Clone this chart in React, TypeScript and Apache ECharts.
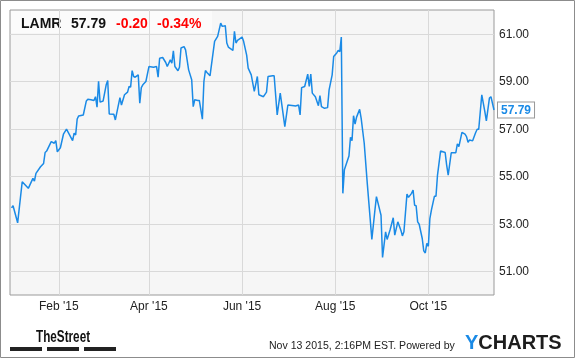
import React, { useEffect, useRef } from 'react';
import * as echarts from 'echarts';

// Day of year 2015 (Dec 31 2014 = 0) and closing price
const days = [
  1, 2, 5, 8, 12, 15, 16, 17, 20, 22, 23, 24, 27, 29, 30, 31, 33, 35, 37, 41, 42, 43, 44, 45, 48, 50, 51,
  53, 55, 56, 57, 58, 59, 61, 63, 64, 65, 68, 69, 72, 73, 75, 77, 78, 79, 80, 81, 82, 84, 85, 86, 87, 89,
  91, 94, 96, 97, 98, 100, 102, 103, 105, 106, 107, 108, 110, 111, 112, 114, 115, 116, 117, 119, 120, 121,
  123, 124, 126, 127, 128, 129, 131, 134, 136, 138, 139, 141, 142, 143, 146, 147, 148, 149, 152, 153,
  155, 156, 158, 160, 162, 163, 166, 168, 169, 172, 173, 175, 177, 180, 182, 186, 187, 189, 190, 191,
  193, 195, 196, 197, 198, 200, 202, 203, 204, 206, 208, 209, 211, 212, 214, 215, 216, 217, 218, 219,
  222, 223, 224, 225, 226, 227, 229, 230, 232, 234, 237, 239, 240, 243, 244, 246, 247, 249, 251, 252,
  254, 256, 257, 258, 260, 261, 263, 264, 265, 266, 267, 268, 270, 271, 272, 273, 274, 275, 276, 278,
  279, 280, 282, 285, 286, 287, 289, 291, 292, 293, 294, 296, 298, 299, 300, 301, 303, 305, 306, 307,
  309, 311, 312, 314, 315, 317,
];
const prices = [
  53.67, 53.76, 53.04, 54.77, 54.49, 54.91, 54.8, 55.12, 55.4, 55.54, 56.0, 56.06, 56.46, 56.39, 56.5, 56.03,
  56.2, 56.77, 56.98, 56.5, 56.81, 56.74, 57.41, 57.54, 57.58, 58.17, 58.24,
  58.22, 58.19, 58.35, 57.91, 59.0, 58.12, 58.17, 58.85, 59.03, 57.62, 57.61, 57.37, 58.31, 58.0, 58.43,
  58.54, 58.78, 58.75, 59.45, 59.2, 59.17, 59.27, 58.08, 58.73, 58.85, 58.99,
  59.62, 59.59, 59.62, 59.17, 59.97, 60.0, 59.79, 59.62, 59.9, 59.76, 60.28, 59.62, 59.44, 59.59, 60.4,
  60.46, 60.32, 59.9, 59.48, 59.06, 57.93, 58.22,
  58.19, 58.19, 57.4, 58.99, 59.45, 59.37, 59.23, 60.68, 60.89, 61.45, 61.31, 61.34, 60.61, 60.44, 60.3,
  61.1, 60.61, 60.72, 60.86, 60.68,
  60.1, 59.55, 59.27, 58.57, 59.2, 58.43, 58.35, 58.54, 59.2, 59.23, 59.23, 57.58, 58.5, 57.09, 58.0,
  57.97, 57.96, 58.0, 57.58, 58.73,
  58.78, 59.3, 58.78, 59.3, 58.5, 58.35, 57.97, 58.4, 57.93, 57.86, 57.89, 58.64, 59.27, 60.04, 60.19,
  60.3, 60.25, 60.86, 54.28, 55.27,
  55.85, 56.64, 56.5, 57.55, 57.2, 57.49, 57.82, 57.44, 56.39, 54.7, 52.34, 53.57, 54.14, 53.36, 51.58,
  52.66, 52.34, 52.76, 53.25, 52.52,
  53.08, 52.73, 52.49, 52.66, 54.25, 54.11, 54.28, 54.42, 53.78, 53.76, 53.08, 52.98, 52.38, 51.86, 51.77,
  52.17, 52.05, 53.22, 53.57, 54.16,
  54.16, 55.05, 56.06, 56.0, 55.47, 55.05, 55.99, 55.99, 55.99, 56.36, 56.25, 56.85, 56.77, 56.67, 56.43,
  56.53, 56.49, 56.84, 56.98, 56.98,
  58.43, 57.72, 57.33, 58.29, 58.35, 57.79,
];

const tickDays = [32, 91, 152, 213, 274];
const tickLabels = ["Feb '15", "Apr '15", "Jun '15", "Aug '15", "Oct '15"];
const priceTicks = [51, 53, 55, 57, 59, 61];

const ticker = 'LAMR';
const lastPrice = '57.79';
const change = '-0.20';
const changePct = '-0.34%';
const stamp = 'Nov 13 2015, 2:16PM EST. Powered by';

const FONT = '"Liberation Sans", Arial, Helvetica, sans-serif';
const BLUE = '#1a8ae6';

export default function App() {
  const ref = useRef<HTMLDivElement>(null);
  useEffect(() => {
    document.body.style.margin = '0';
    const chart = echarts.init(ref.current!, null, { renderer: 'svg' });
    const data = days.map((d, i) => [d, prices[i]]);
    chart.setOption({
      animation: false,
      textStyle: { fontFamily: FONT },
      grid: {
        left: 10, right: 81, top: 10, bottom: 63,
        show: true, backgroundColor: '#f6f6f6', borderColor: '#9a9a9a', borderWidth: 1,
      },
      xAxis: {
        type: 'value', min: 0, max: 317,
        axisLine: { show: false },
        axisTick: { show: false, customValues: tickDays },
        splitLine: { show: true, lineStyle: { color: '#d9d9d9', width: 1 } },
        axisLabel: {
          customValues: tickDays, margin: 5, color: '#222', fontSize: 12, fontFamily: FONT,
          formatter: (v: number) => {
            const i = tickDays.indexOf(Math.round(v));
            return i >= 0 ? tickLabels[i] : '';
          },
        },
      },
      yAxis: {
        type: 'value', position: 'right', min: 50, max: 62,
        axisLine: { show: false },
        axisTick: { show: false, customValues: priceTicks },
        splitLine: { show: true, lineStyle: { color: '#d9d9d9', width: 1 } },
        axisLabel: {
          customValues: priceTicks, margin: 5, color: '#222', fontSize: 12, fontFamily: FONT,
          formatter: (v: number) => v.toFixed(2),
        },
      },
      series: [
        {
          type: 'line', data, showSymbol: false, symbol: 'none',
          lineStyle: { color: BLUE, width: 1.5 },
          endLabel: {
            show: true, formatter: lastPrice, distance: 4,
            color: BLUE, fontWeight: 'bold', fontSize: 12, fontFamily: FONT,
            backgroundColor: '#fff', borderColor: '#999', borderWidth: 1, padding: [2, 3, 1, 3],
          },
        },
      ],
      graphic: [
        { type: 'rect', shape: { x: 0.5, y: 0.5, width: 574, height: 357 }, style: { fill: 'none', stroke: '#8c8c8c', lineWidth: 1 }, silent: true },
        { type: 'rect', shape: { x: 11, y: 11, width: 201, height: 22 }, style: { fill: 'rgba(255,255,255,0.55)' }, silent: true },
        { type: 'text', x: 21, y: 23, style: { text: ticker, font: `bold 14px ${FONT}`, fill: '#111', verticalAlign: 'middle' } },
        { type: 'text', x: 71, y: 23, style: { text: lastPrice, font: `bold 14px ${FONT}`, fill: '#111', verticalAlign: 'middle' } },
        { type: 'text', x: 116, y: 23, style: { text: change, font: `bold 14px ${FONT}`, fill: '#f00', verticalAlign: 'middle' } },
        { type: 'text', x: 157, y: 23, style: { text: changePct, font: `bold 14px ${FONT}`, fill: '#f00', verticalAlign: 'middle' } },
        { type: 'text', x: 36, y: 336, scaleX: 0.69, style: { text: 'TheStreet', font: `bold 17px ${FONT}`, fill: '#111', verticalAlign: 'middle' } },
        { type: 'rect', shape: { x: 10, y: 347, width: 32, height: 4 }, style: { fill: '#222' } },
        { type: 'rect', shape: { x: 47, y: 347, width: 32, height: 4 }, style: { fill: '#222' } },
        { type: 'rect', shape: { x: 84, y: 347, width: 32, height: 4 }, style: { fill: '#222' } },
        { type: 'text', x: 269, y: 345, scaleX: 0.96, style: { text: stamp, font: `11px ${FONT}`, fill: '#222', verticalAlign: 'middle' } },
        {
          type: 'text', x: 465, y: 342,
          style: {
            text: '{y|Y}{c|CHARTS}', verticalAlign: 'middle',
            rich: {
              y: { fill: BLUE, font: `bold 20px ${FONT}` },
              c: { fill: '#1d1d1d', font: `bold 20px ${FONT}` },
            },
          },
        },
      ],
    });
    return () => chart.dispose();
  }, []);
  return <div ref={ref} style={{ position: 'fixed', left: 0, top: 0, width: 575, height: 358 }} />;
}
